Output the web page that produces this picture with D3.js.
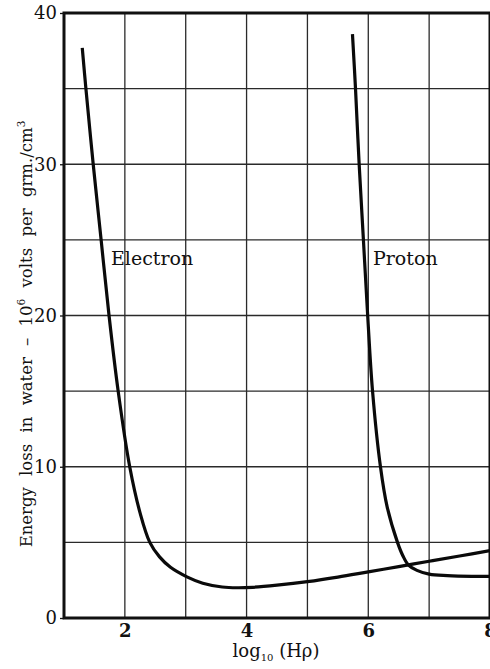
<!DOCTYPE html>
<html>
<head>
<meta charset="utf-8">
<script src="https://cdn.jsdelivr.net/npm/d3@7"></script>
<style>
  body { margin: 0; background: #fff; }
  svg { display: block; font-family: "DejaVu Serif", "Liberation Serif", serif; }
</style>
</head>
<body>
<svg id="chart" width="490" height="669"></svg>
<script>
// values: [log10(H rho), energy loss]
const electron = [
  [1.30, 37.7], [1.36, 35], [1.48, 30], [1.61, 25], [1.74, 20], [1.89, 15],
  [2.08, 10], [2.25, 6.95], [2.41, 5], [2.57, 4.04], [2.75, 3.35],
  [3.02, 2.72], [3.28, 2.3], [3.6, 2.05], [3.85, 2.0], [4.1, 2.03], [4.5, 2.17],
  [5.0, 2.4], [5.5, 2.7], [6.0, 3.05], [6.5, 3.4], [7.0, 3.75], [7.5, 4.1], [8.0, 4.45]
];
const proton = [
  [5.74, 38.6], [5.79, 35], [5.85, 30], [5.92, 25], [5.99, 20], [6.07, 15],
  [6.2, 10], [6.31, 7.35], [6.48, 5], [6.57, 4.1], [6.66, 3.5], [6.8, 3.15],
  [7.0, 2.9], [7.3, 2.8], [7.7, 2.75], [8.0, 2.75]
];
const xTicks = [2, 4, 6, 8];
const yTicks = [0, 10, 20, 30, 40];
const xGrid = [2, 3, 4, 5, 6, 7];
const yGrid = [5, 10, 15, 20, 25, 30, 35];

const svg = d3.select("#chart");
const x = d3.scaleLinear().domain([1, 8]).range([64, 490]);
const y = d3.scaleLinear().domain([0, 40]).range([618, 13]);

// grid
svg.append("g").selectAll("line").data(xGrid).join("line")
  .attr("x1", d => x(d)).attr("x2", d => x(d))
  .attr("y1", y(0)).attr("y2", y(40))
  .attr("stroke", "#2a2a2a").attr("stroke-width", 1.3);
svg.append("g").selectAll("line").data(yGrid).join("line")
  .attr("x1", x(1)).attr("x2", x(8))
  .attr("y1", d => y(d)).attr("y2", d => y(d))
  .attr("stroke", "#2a2a2a").attr("stroke-width", 1.3);

// frame
svg.append("path")
  .attr("d", `M${x(8)},${y(40)}H${x(1)}V${y(0)}H${x(8)}V${y(40)}`)
  .attr("fill", "none").attr("stroke", "#111").attr("stroke-width", 3);

// axes (labels only, the frame draws the lines)
const xAxis = svg.append("g")
  .attr("transform", `translate(0,${y(0)})`)
  .call(d3.axisBottom(x).tickValues(xTicks).tickSize(0).tickPadding(6).tickFormat(d3.format("d")));
xAxis.select(".domain").remove();
xAxis.selectAll("text")
  .attr("font-size", 18).attr("font-weight", "bold")
  .attr("font-family", "'DejaVu Serif', serif").attr("fill", "#111");

const yAxis = svg.append("g")
  .attr("transform", `translate(${x(1)},0)`)
  .call(d3.axisLeft(y).tickValues(yTicks).tickSize(4).tickPadding(3).tickFormat(d3.format("d")));
yAxis.select(".domain").remove();
yAxis.selectAll("line").attr("stroke", "#111").attr("stroke-width", 1.3);
yAxis.selectAll("text")
  .attr("font-size", 18).attr("font-family", "'DejaVu Serif', serif").attr("fill", "#111");

// curves
const line = d3.line().x(d => x(d[0])).y(d => y(d[1])).curve(d3.curveCatmullRom.alpha(0.5));
svg.append("path").datum(electron).attr("d", line)
  .attr("fill", "none").attr("stroke", "#0a0a0a").attr("stroke-width", 3.2);
svg.append("path").datum(proton).attr("d", line)
  .attr("fill", "none").attr("stroke", "#0a0a0a").attr("stroke-width", 3.2);

// curve labels
svg.append("text").attr("x", 111).attr("y", 265)
  .attr("font-size", 19).attr("fill", "#111").text("Electron");
svg.append("text").attr("x", 373).attr("y", 265)
  .attr("font-size", 19).attr("fill", "#111").text("Proton");

// x title
const xt = svg.append("text").attr("x", 276).attr("y", 657)
  .attr("text-anchor", "middle").attr("font-size", 18).attr("fill", "#111");
xt.append("tspan").text("log");
xt.append("tspan").attr("font-size", 10).attr("dy", 4).text("10");
xt.append("tspan").attr("dy", -4).text(" (H\u03C1)");

// y title
const yt = svg.append("text")
  .attr("transform", "translate(32,334) rotate(-90)")
  .attr("text-anchor", "middle").attr("font-size", 16.5)
  .attr("word-spacing", 6).attr("fill", "#111");
yt.append("tspan").text("Energy loss in water \u2013 10");
yt.append("tspan").attr("font-size", 10.5).attr("dy", -7).text("6");
yt.append("tspan").attr("dy", 7).text(" volts per grm./cm");
yt.append("tspan").attr("font-size", 10.5).attr("dy", -7).text("3");
</script>
</body>
</html>
